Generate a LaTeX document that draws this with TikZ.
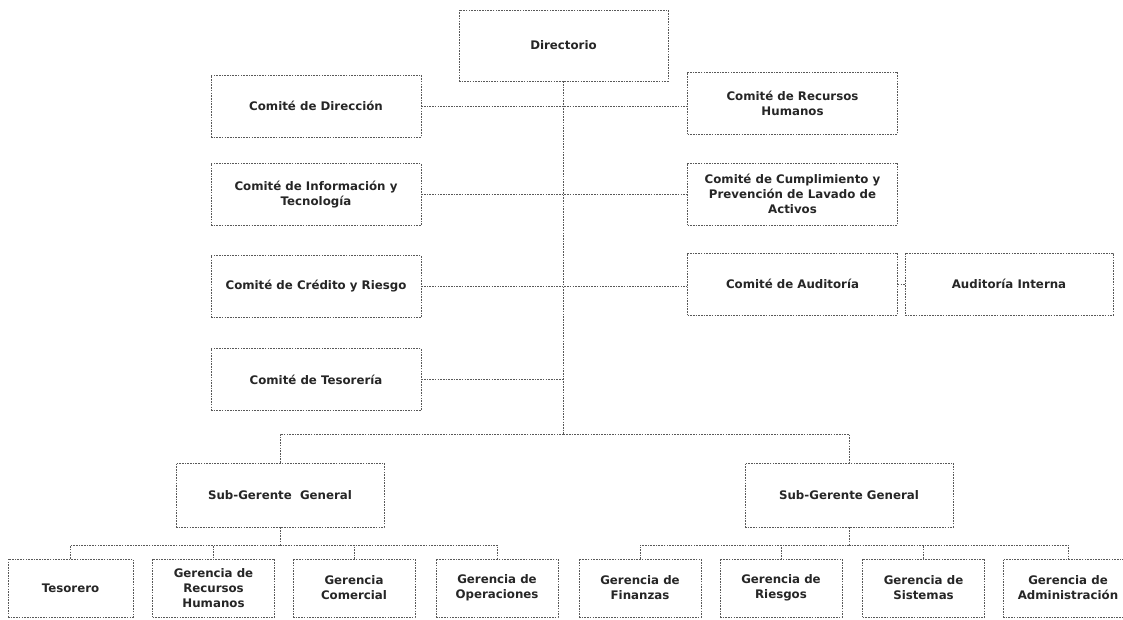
\documentclass[tikz,border=0pt]{standalone}
\usepackage{fontspec}
\setmainfont{DejaVu Sans}
\begin{document}
\begin{tikzpicture}[x=1pt,y=-1pt,
  line/.style={draw=black!65, line width=0.7pt, dash pattern=on 1.6pt off 1.1pt},
  box/.style={line, fill=white, align=center, inner sep=2pt,
    font=\bfseries\fontsize{11.8}{15}\selectfont, text=black!85},
  comite/.style={box, minimum width=210pt, minimum height=62pt},
  gsub/.style={box, minimum width=208pt, minimum height=64pt},
  gerencia/.style={box, minimum width=122pt, minimum height=58pt}]
\useasboundingbox (0,0) rectangle (1123,619);
% top
\node[comite, minimum width=209pt, minimum height=71pt] (dirc) at (563.5,45.5) {Directorio};
% left committees
\node[comite] (cdir) at (316,106) {Comité de Dirección};
\node[comite] (cinf) at (316,194.5) {Comité de Información y\\Tecnología};
\node[comite] (ccre) at (316,286.5) {Comité de Crédito y Riesgo};
\node[comite] (ctes) at (316,379.5) {Comité de Tesorería};
% right committees
\node[comite] (crrhh) at (792.5,103) {Comité de Recursos\\Humanos};
\node[comite] (ccum) at (792.5,194) {Comité de Cumplimiento y\\Prevención de Lavado de\\Activos};
\node[comite] (caud) at (792.5,284) {Comité de Auditoría};
\node[comite, minimum width=208pt] (aint) at (1009,284) {Auditoría Interna};
% sub-gerentes
\node[gsub] (sg1) at (280,495) {Sub-Gerente\ \ General};
\node[gsub] (sg2) at (849,495) {Sub-Gerente General};
% gerencias left
\node[gerencia, minimum width=125pt] (tes) at (70.5,588) {Tesorero};
\node[gerencia] (grh) at (213.5,588) {Gerencia de\\Recursos\\Humanos};
\node[gerencia] (gcom) at (354,588) {Gerencia\\Comercial};
\node[gerencia] (gope) at (497,588) {Gerencia de\\Operaciones};
% gerencias right
\node[gerencia] (gfin) at (640,588) {Gerencia de\\Finanzas};
\node[gerencia] (grie) at (781,588) {Gerencia de\\Riesgos};
\node[gerencia] (gsis) at (923.5,588) {Gerencia de\\Sistemas};
\node[gerencia, minimum width=130pt] (gadm) at (1068,588) {Gerencia de\\Administración};
% connectors
\coordinate (j) at (563.5,434);
\draw[line] (dirc.south) -- (j);
\draw[line] (cdir.east) -- (cdir.east -| crrhh.west);
\draw[line] (cinf.east) -- (cinf.east -| ccum.west);
\draw[line] (ccre.east) -- (ccre.east -| caud.west);
\draw[line] (ctes.east) -- (ctes.east -| dirc.south);
\draw[line] (caud.east) -- (aint.west);
\draw[line] (j) -| (sg1.north);
\draw[line] (j) -| (sg2.north);
\coordinate (b1) at (280,545);
\coordinate (b2) at (849,545);
\draw[line] (sg1.south) -- (b1);
\draw[line] (sg2.south) -- (b2);
\draw[line] (b1) -| (tes.north);
\draw[line] (b1) -| (grh.north);
\draw[line] (b1) -| (gcom.north);
\draw[line] (b1) -| (gope.north);
\draw[line] (b2) -| (gfin.north);
\draw[line] (b2) -| (grie.north);
\draw[line] (b2) -| (gsis.north);
\draw[line] (b2) -| (gadm.north);
\end{tikzpicture}
\end{document}
